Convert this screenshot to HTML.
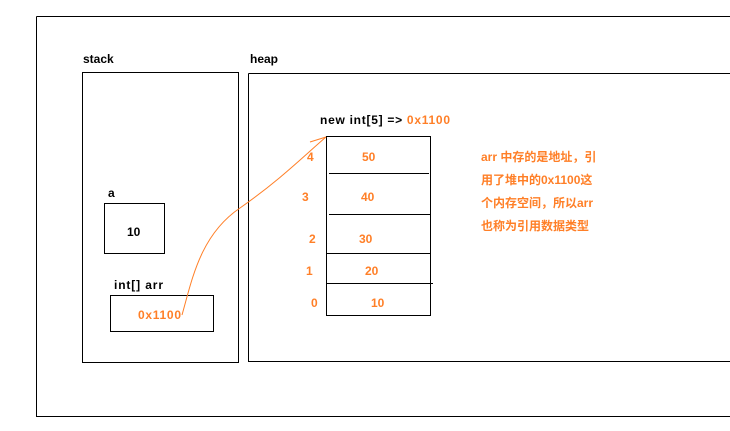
<!DOCTYPE html>
<html><head><style>
body{margin:0;width:730px;height:431px;background:#fff;overflow:hidden}
svg{position:absolute;left:0;top:0}
text{font-family:"Liberation Sans","Noto Sans CJK SC",sans-serif;font-weight:bold;font-size:12px}
.o{fill:#ff7f27}
</style></head><body>
<svg width="730" height="431" viewBox="0 0 730 431">
<g fill="none" stroke="#000" stroke-width="1">
<path d="M36.5 16.5H731M36.5 16.5V416.5H731"/>
<rect x="82.5" y="72.5" width="156" height="290"/>
<path d="M248.5 73.5H731M248.5 73.5V361.5H731"/>
<rect x="104.5" y="203.5" width="60" height="50"/>
<rect x="110.5" y="295.5" width="103" height="36"/>
<rect x="326.5" y="136.5" width="104" height="179"/>
<path d="M329 173.5H429M329 214.5H430M326 253.5H430M326 283.5H433"/>
</g>
<g fill="none" stroke="#ff7f27" stroke-width="1">
<path d="M182 315C192 280 200 235 240 208C280 180 305 155 326 137"/>
<path d="M310 142L326 137"/>
</g>
<text x="83" y="63">stack</text>
<text x="250" y="63">heap</text>
<text x="108" y="197">a</text>
<text x="127" y="236">10</text>
<text x="114" y="289" textLength="49">int[] arr</text>
<text x="138" y="319" class="o" textLength="43">0x1100</text>
<text x="320" y="124" textLength="130">new int[5]  =&gt; <tspan class="o">0x1100</tspan></text>
<text x="307" y="161" class="o">4</text><text x="362" y="161" class="o">50</text>
<text x="302" y="201" class="o">3</text><text x="361" y="201" class="o">40</text>
<text x="309" y="243" class="o">2</text><text x="359" y="243" class="o">30</text>
<text x="306" y="275" class="o">1</text><text x="365" y="275" class="o">20</text>
<text x="311" y="307" class="o">0</text><text x="371" y="307" class="o">10</text>
<text x="481" y="161" class="o">arr 中存的是地址，引</text>
<text x="481" y="184" class="o">用了堆中的0x1100这</text>
<text x="481" y="207" class="o">个内存空间，所以arr</text>
<text x="481" y="230" class="o">也称为引用数据类型</text>
</svg>
</body></html>
